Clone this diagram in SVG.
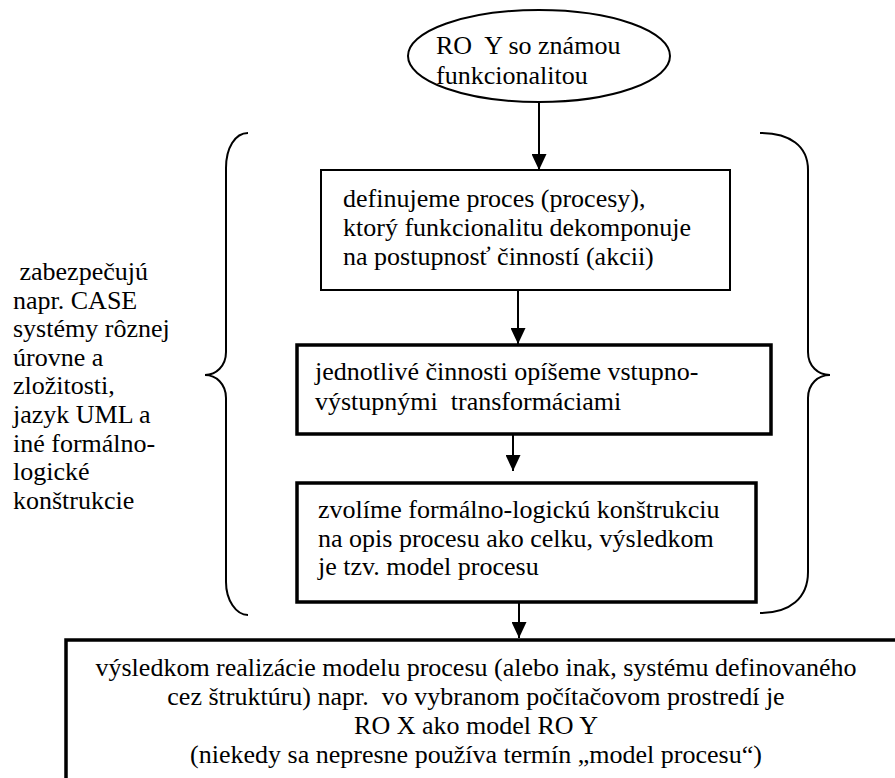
<svg xmlns="http://www.w3.org/2000/svg" width="895" height="778" viewBox="0 0 895 778">
  <style>
    text { font-family: "Liberation Serif", "Times New Roman", serif; font-size: 26px; fill: #000; white-space: pre; }
    .thin { fill: #fff; stroke: #000; stroke-width: 2; }
    .thick { fill: #fff; stroke: #000; stroke-width: 3.5; }
    .brace { fill: none; stroke: #000; stroke-width: 2; }
    .edge { stroke: #000; stroke-width: 2; fill: none; }
    .mid { text-anchor: middle; }
  </style>
  <defs>
    <marker id="arrow" viewBox="0 0 16 15" refX="16" refY="7.5" markerWidth="16" markerHeight="15" markerUnits="userSpaceOnUse" orient="auto">
      <path d="M0,0 L16,7.5 L0,15 Z" fill="#000"/>
    </marker>
  </defs>

  <rect width="895" height="778" fill="#fff"/>

  <!-- curly braces around the process steps -->
  <g id="braces">
    <path class="brace" d="M248,133 C235,133 226,148 226,168 L226,352 C226,366 216,375 205,375 C216,375 226,384 226,398 L226,582 C226,600 236,615 248,615"/>
    <path class="brace" d="M760,133 C790,133 808,146 808,170 L808,352 C808,366 818,375 830,375 C818,375 808,384 808,398 L808,572 C808,598 790,613 760,613"/>
  </g>

  <!-- connectors -->
  <g id="connectors">
    <line class="edge" x1="539" y1="102" x2="539" y2="170" marker-end="url(#arrow)"/>
    <line class="edge" x1="518" y1="290" x2="518" y2="344" marker-end="url(#arrow)"/>
    <line class="edge" x1="513" y1="434" x2="513" y2="471" marker-end="url(#arrow)"/>
    <line class="edge" x1="519" y1="602" x2="519" y2="638" marker-end="url(#arrow)"/>
  </g>

  <g id="start">
    <ellipse class="thin" cx="539" cy="56" rx="131" ry="46"/>
    <text x="436" y="54">RO  Y so známou</text>
    <text x="436" y="84">funkcionalitou</text>
  </g>

  <g id="note">
    <text x="13" y="280"> zabezpečujú</text>
    <text x="13" y="309">napr. CASE</text>
    <text x="13" y="337">systémy rôznej</text>
    <text x="13" y="366">úrovne a</text>
    <text x="13" y="394">zložitosti,</text>
    <text x="13" y="423">jazyk UML a</text>
    <text x="13" y="452">iné formálno-</text>
    <text x="13" y="480">logické</text>
    <text x="13" y="509">konštrukcie</text>
  </g>

  <g id="step1">
    <rect class="thin" x="321" y="170" width="409" height="120"/>
    <text x="343" y="207">definujeme proces (procesy),</text>
    <text x="343" y="236">ktorý funkcionalitu dekomponuje</text>
    <text x="343" y="265">na postupnosť činností (akcii)</text>
  </g>

  <g id="step2">
    <rect class="thick" x="297" y="345" width="474" height="89"/>
    <text x="315" y="380">jednotlivé činnosti opíšeme vstupno-</text>
    <text x="315" y="410">výstupnými  transformáciami</text>
  </g>

  <g id="step3">
    <rect class="thick" x="297" y="483" width="459" height="119"/>
    <text x="318" y="518">zvolíme formálno-logickú konštrukciu</text>
    <text x="318" y="547">na opis procesu ako celku, výsledkom</text>
    <text x="318" y="575">je tzv. model procesu</text>
  </g>

  <g id="result">
    <rect class="thick" x="66" y="640" width="840" height="150"/>
    <text class="mid" x="476" y="676">výsledkom realizácie modelu procesu (alebo inak, systému definovaného</text>
    <text class="mid" x="476" y="705">cez štruktúru) napr.  vo vybranom počítačovom prostredí je</text>
    <text class="mid" x="476" y="734">RO X ako model RO Y</text>
    <text class="mid" x="476" y="763">(niekedy sa nepresne používa termín „model procesu“)</text>
  </g>
</svg>
